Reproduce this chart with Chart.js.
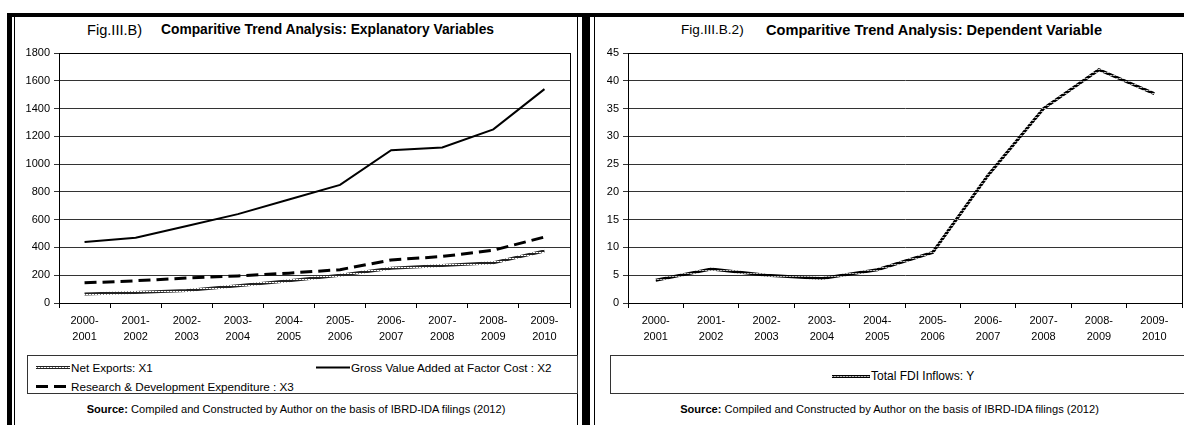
<!DOCTYPE html>
<html>
<head>
<meta charset="utf-8">
<script src="https://cdn.jsdelivr.net/npm/chart.js@4.4.0/dist/chart.umd.min.js"></script>
<style>
  html, body { margin: 0; padding: 0; background: #fff; }
  body { width: 1184px; height: 425px; position: relative; overflow: hidden;
         font-family: 'Liberation Sans', Arial, sans-serif; color: #000; }
  .rule   { position: absolute; background: #000; }
  .title  { position: absolute; top: 22px; white-space: nowrap; line-height: 16px; }
  canvas.chart { position: absolute; top: 41px; }
  .legend { position: absolute; top: 355px; height: 39px; border: 1px solid #333; box-sizing: border-box; font-size: 11.7px; }
  .item   { position: absolute; display: flex; align-items: center; white-space: nowrap; height: 14px; }
  .item canvas { margin-right: 1px; }
  .source { position: absolute; top: 403px; font-size: 11.1px; text-align: center; white-space: nowrap; }
</style>
</head>
<body>

<!-- frame rules -->
<div class="rule" style="left:7px;top:13px;width:1177px;height:4px;"></div>
<div class="rule" style="left:7px;top:13px;width:5px;height:412px;"></div>
<div class="rule" style="left:14px;top:17px;width:1px;height:408px;"></div>
<div class="rule" style="left:577px;top:17px;width:1px;height:408px;"></div>
<div class="rule" style="left:582px;top:13px;width:8px;height:412px;"></div>
<div class="rule" style="left:594px;top:17px;width:1px;height:408px;"></div>

<!-- left panel -->
<div class="title" style="left:87px;font-size:14.6px;">Fig.III.B)</div>
<div class="title" style="left:161px;font-size:13.8px;font-weight:bold;">Comparitive Trend Analysis: Explanatory Variables</div>
<canvas id="leftChart" class="chart" width="562" height="310" style="left:15px;"></canvas>
<div class="legend" style="left:27px;width:551px;">
  <div class="item" style="left:8px;top:4px;"><canvas id="mkX1" width="34" height="8"></canvas>Net Exports: X1</div>
  <div class="item" style="left:288px;top:4px;"><canvas id="mkX2" width="34" height="8"></canvas>Gross Value Added at Factor Cost : X2</div>
  <div class="item" style="left:8px;top:23px;"><canvas id="mkX3" width="34" height="8"></canvas>Research &amp; Development Expenditure : X3</div>
</div>
<div class="source" style="left:15px;width:562px;"><b>Source:</b> Compiled and Constructed by Author on the basis of IBRD-IDA filings (2012)</div>

<!-- right panel -->
<div class="title" style="left:681px;font-size:13.6px;">Fig.III.B.2)</div>
<div class="title" style="left:766px;font-size:14.6px;font-weight:bold;">Comparitive Trend Analysis: Dependent Variable</div>
<canvas id="rightChart" class="chart" width="589" height="310" style="left:595px;"></canvas>
<div class="legend" style="left:610px;width:580px;">
  <div class="item" style="left:221px;top:13px;font-size:12px;"><canvas id="mkY" width="38" height="8"></canvas>Total FDI Inflows: Y</div>
</div>
<div class="source" style="left:595px;width:589px;"><b>Source:</b> Compiled and Constructed by Author on the basis of IBRD-IDA filings (2012)</div>

<script>
// ─── Data ─────────────────────────────────────────────────────────────────────

const years = ['2000-2001', '2001-2002', '2002-2003', '2003-2004', '2004-2005',
               '2005-2006', '2006-2007', '2007-2008', '2008-2009', '2009-2010'];

const netExports      = [65, 75, 90, 125, 160, 200, 250, 270, 290, 375];
const grossValueAdded = [440, 470, 555, 640, 745, 850, 1100, 1120, 1250, 1540];
const rndExpenditure  = [145, 160, 180, 195, 215, 240, 310, 335, 380, 475];
const fdiInflows      = [4.1, 6.1, 5.0, 4.4, 6.0, 9.1, 23.0, 35.0, 42.0, 37.7];

const leftAxisMax  = 1800, leftAxisStep  = 200;
const rightAxisMax = 45,   rightAxisStep = 5;

// two-line tick labels, "2000-" / "2001"
const yearLabels = years.map(y => [y.slice(0, 5), y.slice(5)]);

// ─── Styles ───────────────────────────────────────────────────────────────────

Chart.defaults.font.family = "'Liberation Sans', Arial, sans-serif";
Chart.defaults.font.size = 11;
Chart.defaults.color = '#000';

// chain-like texture for the hatched lines: dark edges, light middle row
function hatchPattern(edge, mid, gap) {
  const c = document.createElement('canvas');
  c.width = 3; c.height = 3;
  const g = c.getContext('2d');
  g.fillStyle = edge;
  g.fillRect(0, 0, 3, 3);
  g.fillStyle = mid;
  g.fillRect(0, 1, 3, 1);
  g.fillStyle = gap;
  g.fillRect(1, 1, 1, 1);
  return g.createPattern(c, 'repeat');
}

const hatchX1 = hatchPattern('#222', '#fff', '#777');
const hatchY  = hatchPattern('#000', '#bbb', '#555');

const plotFrame = {
  id: 'plotFrame',
  afterDatasetsDraw(chart) {
    const { ctx, chartArea: a } = chart;
    ctx.save();
    ctx.strokeStyle = '#000';
    ctx.lineWidth = 1;
    ctx.strokeRect(Math.round(a.left) + 0.5, Math.round(a.top) + 0.5,
                   Math.round(a.right - a.left), Math.round(a.bottom - a.top));
    ctx.restore();
  },
};

function buildOptions(axisMax, axisStep, yWidth, padRight) {
  return {
    responsive: false,
    animation: false,
    devicePixelRatio: 1,
    layout: { padding: { top: 12, right: padRight, left: 0, bottom: 0 } },
    elements: { point: { radius: 0 }, line: { tension: 0 } },
    plugins: { legend: { display: false }, tooltip: { enabled: false } },
    scales: {
      x: {
        type: 'category',
        offset: true,
        afterFit: s => { s.height = 48; },
        grid: { offset: true, drawOnChartArea: false, tickLength: 5, color: '#000' },
        border: { color: '#000' },
        ticks: { maxRotation: 0, autoSkip: false, padding: 5, font: { size: 11, lineHeight: 1.45 } },
      },
      y: {
        min: 0,
        max: axisMax,
        afterFit: s => { s.width = yWidth; },
        grid: { color: '#333', tickLength: 5 },
        border: { color: '#000' },
        ticks: { stepSize: axisStep, padding: 4, font: { size: 11 }, callback: v => String(v) },
      },
    },
  };
}

// ─── Charts ───────────────────────────────────────────────────────────────────

new Chart(document.getElementById('leftChart'), {
  type: 'line',
  data: {
    labels: yearLabels,
    datasets: [
      { label: 'Net Exports: X1', data: netExports, borderColor: hatchX1, borderWidth: 3 },
      { label: 'Gross Value Added at Factor Cost : X2', data: grossValueAdded, borderColor: '#000', borderWidth: 2 },
      { label: 'Research & Development Expenditure : X3', data: rndExpenditure, borderColor: '#000', borderWidth: 3, borderDash: [12, 6] },
    ],
  },
  options: buildOptions(leftAxisMax, leftAxisStep, 44, 7),
  plugins: [plotFrame],
});

new Chart(document.getElementById('rightChart'), {
  type: 'line',
  data: {
    labels: yearLabels,
    datasets: [
      { label: 'Total FDI Inflows: Y', data: fdiInflows, borderColor: hatchY, borderWidth: 3 },
    ],
  },
  options: buildOptions(rightAxisMax, rightAxisStep, 33, 2),
  plugins: [plotFrame],
});

// ─── Legend markers ───────────────────────────────────────────────────────────

function drawMarker(id, stroke, width, dash) {
  const el = document.getElementById(id);
  const g = el.getContext('2d');
  g.strokeStyle = stroke;
  g.lineWidth = width;
  g.setLineDash(dash || []);
  g.beginPath();
  g.moveTo(0, 4.5);
  g.lineTo(el.width, 4.5);
  g.stroke();
}

drawMarker('mkX1', hatchX1, 3);
drawMarker('mkX2', '#000', 2);
drawMarker('mkX3', '#000', 3, [12, 6]);
drawMarker('mkY',  hatchY, 3);
</script>
</body>
</html>
